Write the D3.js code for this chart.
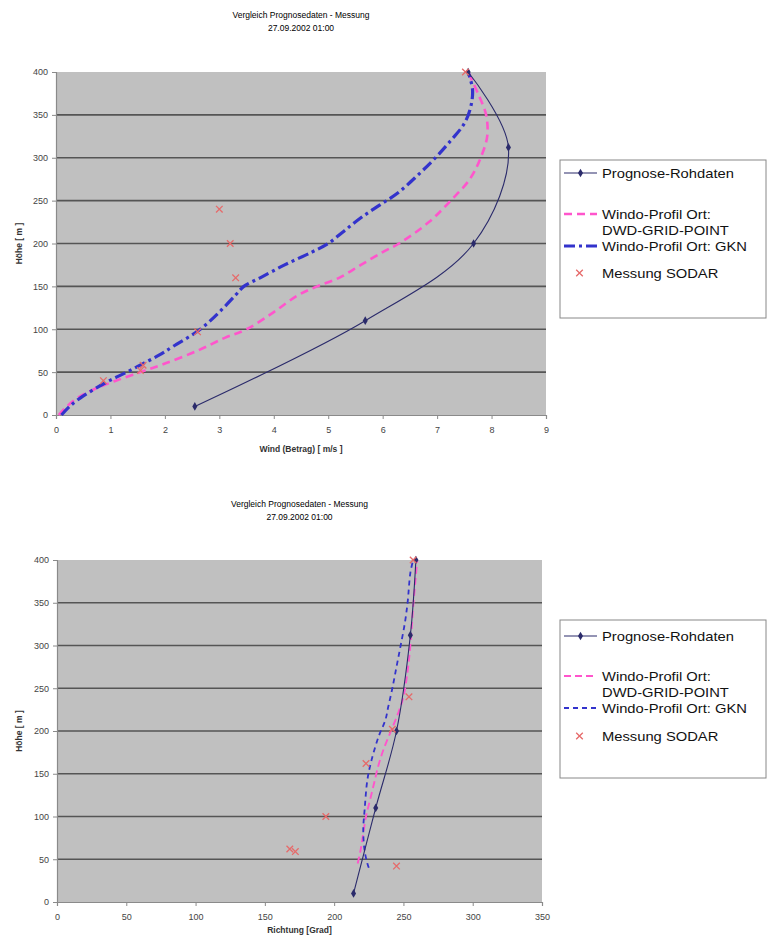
<!DOCTYPE html>
<html><head><meta charset="utf-8">
<script src="https://cdn.jsdelivr.net/npm/d3@7"></script>
<style>body{margin:0;background:#fff;} text{font-family:Arial,"Liberation Sans",sans-serif;}</style>
</head><body><svg id="c" width="767" height="944"></svg>
<script>
// ---------- data ----------
const titleLines = ["Vergleich Prognosedaten - Messung", "27.09.2002 01:00"];
const legendLabels = ["Prognose-Rohdaten", "Windo-Profil Ort:", "DWD-GRID-POINT", "Windo-Profil Ort: GKN", "Messung SODAR"];
const yTicks = [0, 50, 100, 150, 200, 250, 300, 350, 400];
const windTicks = [0, 1, 2, 3, 4, 5, 6, 7, 8, 9];
const dirTicks = [0, 50, 100, 150, 200, 250, 300, 350];
const yTitle = "Höhe [ m ]";
const windTitle = "Wind (Betrag) [ m/s ]";
const dirTitle = "Richtung [Grad]";

// chart 1: wind speed
const progHeight = [10, 110, 200, 312, 400];
const progWind = [2.55, 5.68, 7.67, 8.31, 7.57];
const dwdHeight = [0, 10, 20, 30, 40, 50, 60, 75, 90, 100, 120, 140, 150, 160, 175, 190, 200, 225, 250, 275, 300, 325, 350, 375, 400];
const dwdWind = [0.05, 0.2, 0.4, 0.7, 1.1, 1.55, 2.0, 2.6, 3.1, 3.5, 4.0, 4.45, 4.8, 5.2, 5.6, 6.0, 6.3, 6.85, 7.25, 7.6, 7.8, 7.92, 7.9, 7.75, 7.57];
const gknHeight = [0, 10, 20, 30, 40, 50, 60, 70, 80, 100, 120, 140, 150, 160, 175, 190, 200, 215, 230, 245, 260, 280, 300, 320, 340, 360, 380, 400];
const gknWind = [0.1, 0.25, 0.45, 0.7, 0.98, 1.3, 1.6, 1.9, 2.15, 2.65, 3.0, 3.3, 3.45, 3.75, 4.2, 4.7, 5.0, 5.3, 5.6, 5.95, 6.3, 6.65, 6.97, 7.25, 7.5, 7.62, 7.65, 7.57];
const sodarHeight = [40, 52, 58, 97, 160, 200, 240, 400];
const sodarWind = [0.87, 1.55, 1.6, 2.6, 3.3, 3.2, 3.0, 7.52];

// chart 2: direction
const progDirHeight = [10, 110, 200, 312, 400];
const progDir = [214, 230, 245, 255, 259];
const dwdDirHeight = [45, 60, 80, 100, 120, 140, 160, 180, 200, 220, 240, 270, 300, 345, 400];
const dwdDir = [217, 219, 221, 223, 226, 229, 232, 236, 241, 246, 250, 253, 255, 257, 260];
const gknDirHeight = [40, 45, 60, 84, 108, 143, 166, 193, 213, 228, 250, 275, 300, 326, 350, 385, 400];
const gknDir = [225, 224, 222, 221, 222, 224, 227, 232, 237, 239, 242, 245, 248, 251, 253, 255, 257];
const sodarDirHeight = [42, 62, 59, 100, 162, 202, 240, 400];
const sodarDir = [245, 168, 172, 194, 223, 242, 254, 257];

// ---------- drawing ----------
const svg = d3.select("#c");
svg.append("rect").attr("width", 767).attr("height", 944).attr("fill", "#fff");

const COL_PROG = "#2b2b6b", COL_DWD = "#ff55cc", COL_GKN = "#3333cc", COL_SODAR = "#e66a6a";

function zip(xs, ys) { return xs.map((v, i) => [v, ys[i]]); }

function drawChart(o) {
  const g = svg.append("g");
  const x = d3.scaleLinear().domain(o.xDomain).range([o.left, o.right]);
  const y = d3.scaleLinear().domain([0, 400]).range([o.bottom, o.top]);
  const cx = (o.left + o.right) / 2;

  // title
  titleLines.forEach((t, i) => g.append("text").attr("x", cx).attr("y", o.titleY + i * 13)
    .attr("text-anchor", "middle").attr("font-size", 8.5).attr("fill", "#000").text(t));

  // plot area
  g.append("rect").attr("x", o.left).attr("y", o.top).attr("width", o.right - o.left)
    .attr("height", o.bottom - o.top).attr("fill", "#c0c0c0");
  yTicks.filter(v => v > 0 && v < 400).forEach(v => g.append("line")
    .attr("x1", o.left).attr("x2", o.right).attr("y1", y(v)).attr("y2", y(v))
    .attr("stroke", "#555").attr("stroke-width", 1.7));

  // axes
  const ya = g.append("g").attr("transform", `translate(${o.left},0)`)
    .call(d3.axisLeft(y).tickValues(yTicks).tickSize(4).tickPadding(4));
  const xa = g.append("g").attr("transform", `translate(0,${o.bottom})`)
    .call(d3.axisBottom(x).tickValues(o.xTicks).tickSize(4).tickPadding(8));
  [ya, xa].forEach(a => {
    a.select(".domain").attr("stroke", "#8a8a8a").attr("stroke-width", 1.2);
    a.selectAll(".tick line").attr("stroke", "#8a8a8a");
    a.selectAll(".tick text").attr("font-size", 9).attr("fill", "#444").attr("font-family", "Arial, Liberation Sans, sans-serif");
  });

  g.append("text").attr("x", cx).attr("y", o.xTitleY).attr("text-anchor", "middle")
    .attr("font-size", 8.5).attr("font-weight", "bold").attr("fill", "#333").text(o.xTitle);
  g.append("text").attr("transform", `translate(22,${(o.top + o.bottom) / 2}) rotate(-90)`)
    .attr("text-anchor", "middle").attr("font-size", 8.5).attr("font-weight", "bold").attr("fill", "#333").text(yTitle);

  const line = d3.line().x(d => x(d[0])).y(d => y(d[1])).curve(d3.curveCatmullRom.alpha(0.5));

  // series
  g.append("path").datum(zip(o.dwd[1], o.dwd[0])).attr("d", line).attr("fill", "none")
    .attr("stroke", COL_DWD).attr("stroke-width", o.dwdW).attr("stroke-dasharray", o.dwdDash);
  g.append("path").datum(zip(o.gkn[1], o.gkn[0])).attr("d", line).attr("fill", "none")
    .attr("stroke", COL_GKN).attr("stroke-width", o.gknW).attr("stroke-dasharray", o.gknDash);
  const pd = zip(o.prog[1], o.prog[0]);
  g.append("path").datum(pd).attr("d", line).attr("fill", "none")
    .attr("stroke", COL_PROG).attr("stroke-width", 1.1);
  g.selectAll(null).data(pd).enter().append("path")
    .attr("transform", d => `translate(${x(d[0])},${y(d[1])})`)
    .attr("d", d3.symbol(d3.symbolDiamond, 22)).attr("fill", COL_PROG);
  g.selectAll(null).data(zip(o.sodar[1], o.sodar[0])).enter().append("path")
    .attr("transform", d => `translate(${x(d[0])},${y(d[1])})`)
    .attr("d", d3.symbol(d3.symbolX, 30)).attr("fill", "none").attr("stroke", COL_SODAR).attr("stroke-width", 1.3);

  // legend
  const L = o.legend;
  const lg = g.append("g");
  lg.append("rect").attr("x", 560).attr("y", L.top).attr("width", 206).attr("height", L.h)
    .attr("fill", "#fff").attr("stroke", "#888").attr("stroke-width", 1);
  const sx1 = 564, sx2 = 597, tx = 602;
  const ys = L.ys;
  lg.append("line").attr("x1", sx1).attr("x2", sx2).attr("y1", ys[0]).attr("y2", ys[0]).attr("stroke", COL_PROG).attr("stroke-width", 1.1);
  lg.append("path").attr("transform", `translate(${(sx1 + sx2) / 2},${ys[0]})`).attr("d", d3.symbol(d3.symbolDiamond, 22)).attr("fill", COL_PROG);
  lg.append("line").attr("x1", sx1).attr("x2", sx2).attr("y1", ys[1]).attr("y2", ys[1]).attr("stroke", COL_DWD).attr("stroke-width", o.dwdW).attr("stroke-dasharray", o.dwdDash);
  lg.append("line").attr("x1", sx1).attr("x2", sx2).attr("y1", ys[3]).attr("y2", ys[3]).attr("stroke", COL_GKN).attr("stroke-width", o.gknW).attr("stroke-dasharray", o.gknDash);
  lg.append("path").attr("transform", `translate(${(sx1 + sx2) / 2 - 1},${ys[4]})`).attr("d", d3.symbol(d3.symbolX, 30)).attr("fill", "none").attr("stroke", COL_SODAR).attr("stroke-width", 1.3);
  legendLabels.forEach((t, i) => lg.append("text")
    .attr("transform", `translate(${tx},${ys[i] + 4.5}) scale(1.18,1)`)
    .attr("font-size", 12.5).attr("fill", "#111").text(t));
}

drawChart({
  left: 56, right: 546, top: 72, bottom: 415, xDomain: [0, 9], xTicks: windTicks,
  titleY: 18, xTitle: windTitle, xTitleY: 452,
  prog: [progHeight, progWind], dwd: [dwdHeight, dwdWind], gkn: [gknHeight, gknWind], sodar: [sodarHeight, sodarWind],
  dwdW: 2.6, dwdDash: "8,5", gknW: 3.2, gknDash: "11,4,3,4",
  legend: { top: 160, h: 158, ys: [173, 214, 230, 246, 273] }
});
drawChart({
  left: 57, right: 542, top: 560, bottom: 902, xDomain: [0, 350], xTicks: dirTicks,
  titleY: 507, xTitle: dirTitle, xTitleY: 933,
  prog: [progDirHeight, progDir], dwd: [dwdDirHeight, dwdDir], gkn: [gknDirHeight, gknDir], sodar: [sodarDirHeight, sodarDir],
  dwdW: 1.9, dwdDash: "7,4", gknW: 1.8, gknDash: "5,4",
  legend: { top: 620, h: 158, ys: [636, 676, 692, 708, 736] }
});
</script></body></html>
